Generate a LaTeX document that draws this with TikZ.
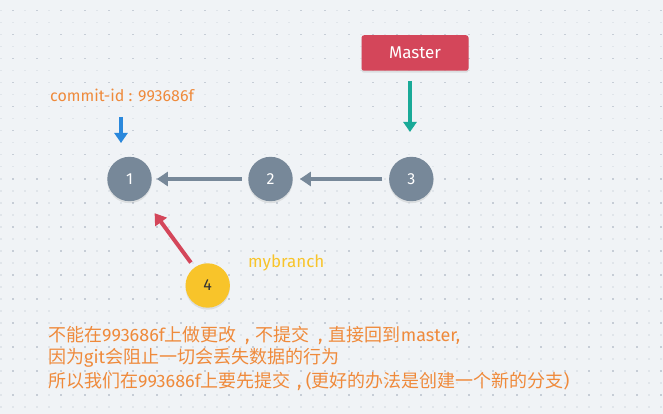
\documentclass[tikz,border=0pt]{standalone}
\usepackage{fontspec}
\setmainfont{Fira Sans}
\newfontfamily\cjk{Noto Sans CJK SC}
\newfontfamily\latinf{Fira Sans}
\newcommand\zcomma[1]{\makebox[#1][c]{\hspace{2pt}{\latinf\fontsize{19}{20}\selectfont ,}}}
\usetikzlibrary{arrows.meta,shadows}
\definecolor{bgc}{HTML}{F0F3F6}
\definecolor{dotlight}{HTML}{E0E5EA}
\definecolor{dotdark}{HTML}{C6CDD6}
\definecolor{mred}{HTML}{D4465A}
\definecolor{mteal}{HTML}{1AAA98}
\definecolor{mblue}{HTML}{2A88DC}
\definecolor{mgray}{HTML}{778899}
\definecolor{myellow}{HTML}{F8C42A}
\definecolor{morange}{HTML}{EF8A3B}
\definecolor{mtext}{HTML}{333333}
\tikzset{
  commit/.style={circle, fill=mgray, text=white, minimum size=44.4pt, inner sep=0pt,
    font=\fontsize{16}{18}\selectfont, drop shadow={opacity=0.18, shadow xshift=0pt, shadow yshift=-2pt}},
  branchcommit/.style={commit, fill=myellow, text=mtext},
  masterbox/.style={rectangle, rounded corners=2.5pt, fill=mred, text=white, minimum width=107pt,
    minimum height=35.5pt, inner sep=0pt, font=\fontsize{17}{19}\selectfont,
    drop shadow={opacity=0.18, shadow xshift=0pt, shadow yshift=-2pt}},
  grayarrow/.style={draw=mgray, line width=4pt, -{Triangle[length=11pt,width=14pt]}},
  tealarrow/.style={draw=mteal, line width=3.5pt, -{Triangle[length=10pt,width=13pt]}},
  bluearrow/.style={draw=mblue, line width=3.5pt, -{Triangle[length=10pt,width=13pt]}},
  redarrow/.style={draw=mred, line width=4pt, -{Triangle[length=11pt,width=14pt]}},
  orangelabel/.style={anchor=west, inner sep=0pt, text=morange, font=\fontsize{16}{18}\selectfont},
  yellowlabel/.style={anchor=west, inner sep=0pt, text=myellow, font=\fontsize{17}{19}\selectfont},
  notetext/.style={anchor=west, inner sep=0pt, text=morange, font=\fontsize{18}{20}\selectfont\cjk},
}
\begin{document}
\begin{tikzpicture}[x=1pt,y=-1pt]
\fill[bgc] (0,0) rectangle (663,414);
\useasboundingbox (0,0) rectangle (663,414);
% dot grid
\foreach \i in {0,...,55} {
  \foreach \j in {0,...,34} {
    \fill[dotlight] ({0.7+12*\i-0.8},{10.7+12*\j-0.8}) rectangle ++(1.6,1.6);
  }
}
\foreach \i in {0,...,27} {
  \foreach \j in {0,...,17} {
    \fill[dotdark] ({12.7+24*\i-0.8},{10.7+24*\j-0.8}) rectangle ++(1.6,1.6);
  }
}
% nodes
\node[masterbox] (master) at (415,53) {Master};
\node[commit] (n1) at (129.5,179) {1};
\node[commit] (n2) at (270.5,179) {2};
\node[commit] (n3) at (411.3,179) {3};
\node[branchcommit] (n4) at (207.7,285.5) {4};
\node[orangelabel] (cid) at (50,95) {commit-id : 993686f};
\node[yellowlabel] (mb) at (248,263) {mybranch};
\node[notetext] (t1) at (48,335) {不能在{\latinf 993686f}上做更改\zcomma{19pt}不提交\zcomma{19pt}直接回到{\latinf master,}};
\node[notetext] (t2) at (48,358) {因为{\latinf git}会阻止一切会丢失数据的行为};
\node[notetext] (t3) at (48,381) {所以我们在{\latinf 993686f}上要先提交\zcomma{15pt}{\latinf (}更好的办法是创建一个新的分支{\latinf )}};
% connectors
\coordinate (ttail) at (410,81);
\coordinate (ttip) at (410,132);
\coordinate (btail) at (121,117);
\coordinate (btip) at (121,143);
\draw[tealarrow] (ttail) -- (ttip);
\draw[bluearrow] (btail) -- (btip);
\draw[grayarrow, shorten <=6.5pt, shorten >=5pt] (n2) -- (n1);
\draw[grayarrow, shorten <=6.5pt, shorten >=7pt] (n3) -- (n2);
\draw[redarrow, shorten <=6pt, shorten >=20pt] (n4) -- (n1);
\end{tikzpicture}
\end{document}
